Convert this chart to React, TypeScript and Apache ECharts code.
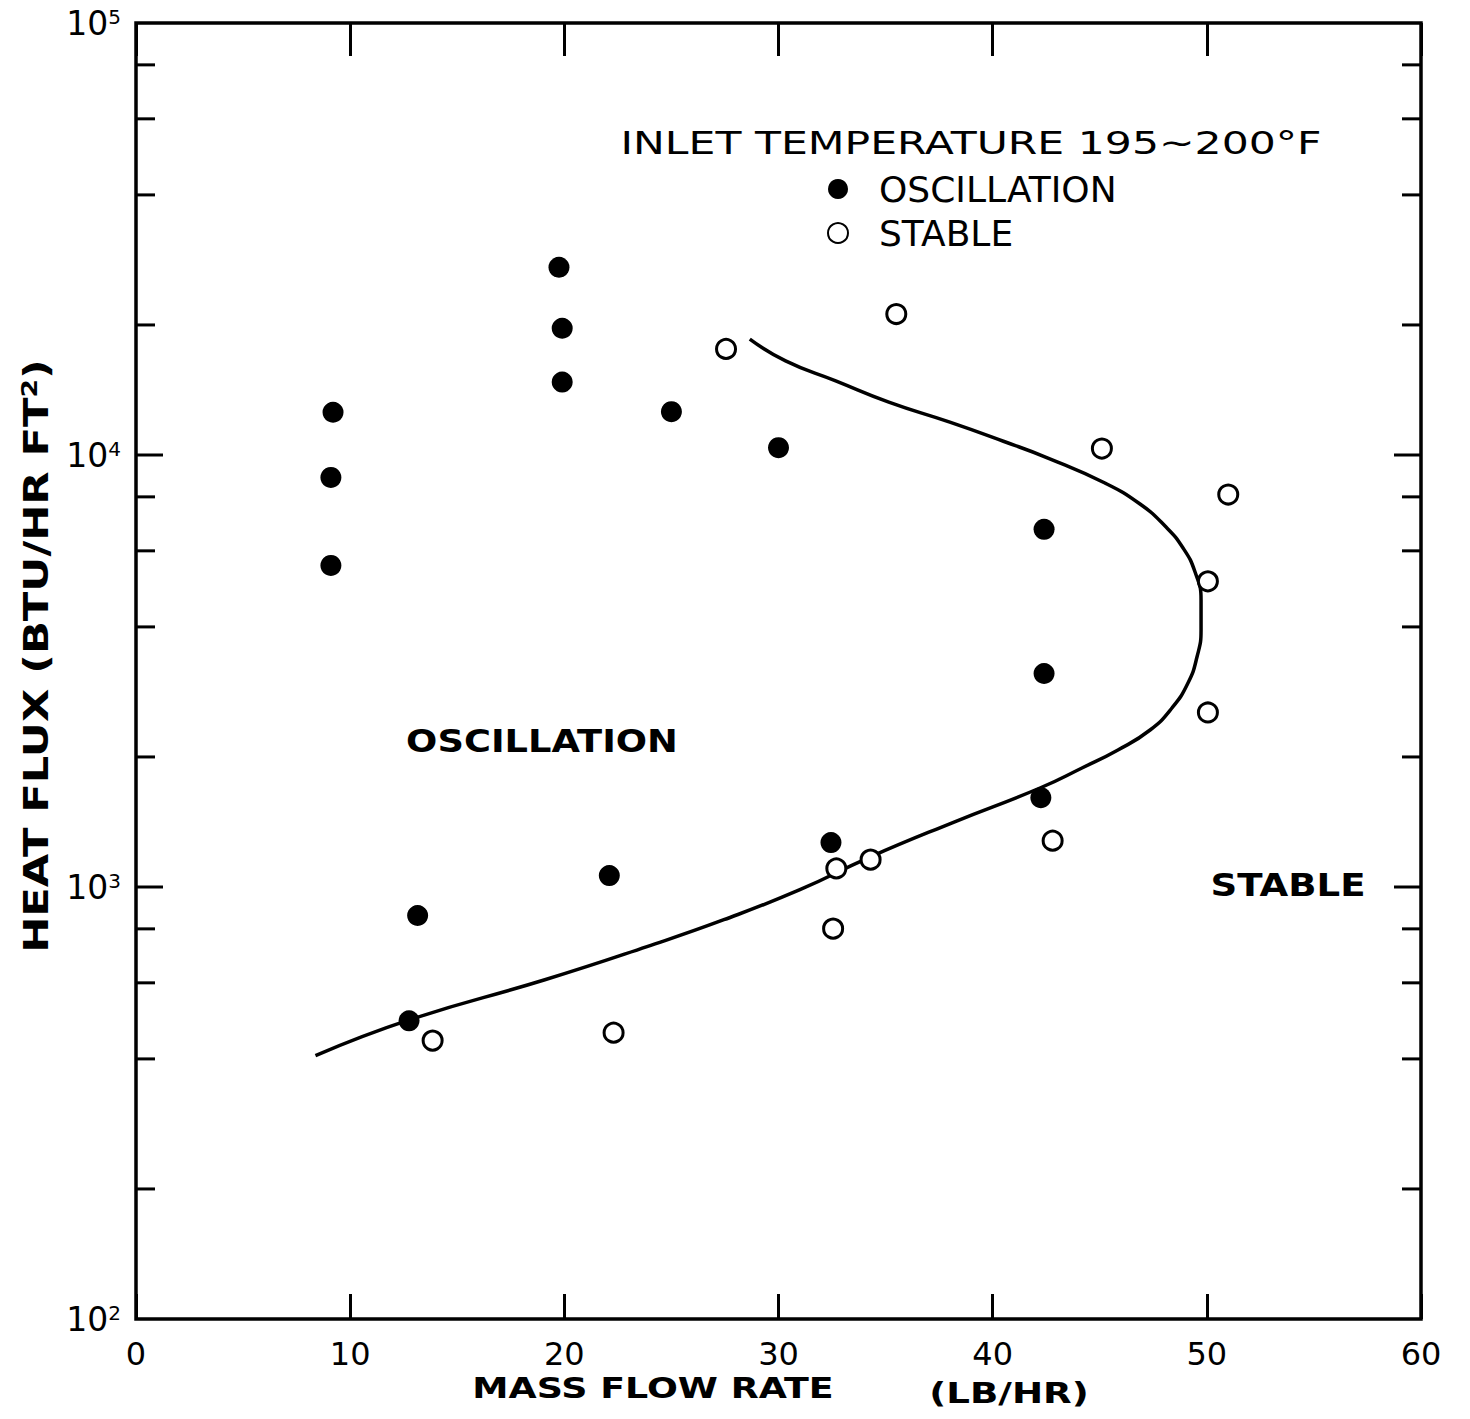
import React, { useEffect, useRef } from 'react';
import * as echarts from 'echarts';

// Mass flow rate (LB/HR) and heat flux (BTU/HR FT^2)
const oscillationX = [9.2, 9.1, 9.1, 19.75, 19.9, 19.9, 25.0, 30.0, 42.4, 42.4, 42.25, 32.45, 22.1, 13.15, 12.75];
const oscillationY = [12560, 8875, 5550, 27200, 19650, 14750, 12600, 10400, 6730, 3120, 1610, 1267, 1063, 859, 490];

const stableX = [35.5, 27.55, 45.1, 51.0, 50.05, 50.05, 42.8, 34.3, 32.7, 32.55, 22.3, 13.85];
const stableY = [21200, 17600, 10350, 8100, 5100, 2535, 1280, 1157, 1104, 801, 460, 441];

// Stability boundary curve, traced from lower-left around the nose to the top
const boundaryX = [8.38, 12.79, 19.09, 23.86, 27.45, 31.0, 34.22, 38.14, 42.21, 44.17, 45.85, 47.35, 48.37, 49.12, 49.54, 49.73, 49.73, 49.45, 48.89, 48.05, 46.88, 45.24, 42.58, 40.5, 38.0, 35.15, 32.67, 30.33, 28.66];
const boundaryY = [407, 493, 610, 728, 840, 986, 1170, 1410, 1695, 1886, 2076, 2309, 2596, 2966, 3407, 3935, 4617, 5359, 6092, 6848, 7700, 8613, 9841, 10760, 11910, 13250, 14840, 16510, 18540];

// Axis ranges and ticks
const xMin = 0;
const xMax = 60;
const xStep = 10;
const yMin = 100;
const yMax = 100000;
const yMinorTicks = [200, 400, 600, 800, 2000, 4000, 6000, 8000, 20000, 40000, 60000, 80000];
const yMajorTicks = [1000, 10000];

const FONT = 'DejaVu Sans';

const seriesOsc = oscillationX.map((x, i) => [x, oscillationY[i]]);
const seriesStable = stableX.map((x, i) => [x, stableY[i]]);
const seriesBoundary = boundaryX.map((x, i) => [x, boundaryY[i]]);
const yTickData = [
  ...yMinorTicks.map((v) => [xMin, v, 0]),
  ...yMajorTicks.map((v) => [xMin, v, 1]),
];

const tickLine = { color: '#000', width: 3 };

const option: any = {
  animation: false,
  backgroundColor: '#fff',
  textStyle: { fontFamily: FONT, color: '#000' },
  grid: {
    left: 136,
    top: 23,
    width: 1285,
    height: 1296,
    show: true,
    borderColor: '#000',
    borderWidth: 3.5,
    backgroundColor: 'transparent',
  },
  legend: {
    data: ['OSCILLATION', 'STABLE'],
    orient: 'vertical',
    left: 827,
    top: 169,
    padding: 0,
    itemWidth: 72,
    itemHeight: 20,
    itemGap: 4,
    selectedMode: false,
    textStyle: { fontSize: 36, fontFamily: FONT, color: '#000', lineHeight: 40 },
  },
  xAxis: [
    {
      type: 'value',
      min: xMin,
      max: xMax,
      interval: xStep,
      position: 'bottom',
      axisLine: { show: false },
      axisTick: { show: true, inside: true, length: 25, lineStyle: tickLine },
      axisLabel: { margin: 19, fontSize: 32, fontFamily: FONT, color: '#000' },
      splitLine: { show: false },
    },
    {
      type: 'value',
      min: xMin,
      max: xMax,
      interval: xStep,
      position: 'top',
      axisLine: { show: false },
      axisTick: { show: true, inside: true, length: 33, lineStyle: tickLine },
      axisLabel: { show: false },
      splitLine: { show: false },
    },
  ],
  yAxis: {
    type: 'log',
    logBase: 10,
    min: yMin,
    max: yMax,
    axisLine: { show: false },
    axisTick: { show: false },
    splitLine: { show: false },
    axisLabel: {
      margin: 15,
      fontSize: 33,
      fontFamily: FONT,
      color: '#000',
      showMinLabel: true,
      showMaxLabel: true,
      formatter: (v: number) => `{n|10}{s|${Math.round(Math.log10(v))}}`,
      rich: {
        n: { fontSize: 33, fontFamily: FONT, color: '#000' },
        s: { fontSize: 20, fontFamily: FONT, color: '#000', verticalAlign: 'top' },
      },
    },
  },
  series: [
    {
      type: 'custom',
      name: 'yticks',
      data: yTickData,
      encode: { x: 0, y: 1 },
      silent: true,
      z: 5,
      renderItem: (params: any, api: any) => {
        const v = api.value(1);
        const major = api.value(2) === 1;
        const len = major ? 27 : 19;
        const pL = api.coord([xMin, v]);
        const pR = api.coord([xMax, v]);
        const st = { stroke: '#000', lineWidth: 3 };
        return {
          type: 'group',
          children: [
            { type: 'line', shape: { x1: pL[0], y1: pL[1], x2: pL[0] + len, y2: pL[1] }, style: st },
            { type: 'line', shape: { x1: pR[0] - len, y1: pR[1], x2: pR[0], y2: pR[1] }, style: st },
          ],
        };
      },
    },
    {
      type: 'line',
      name: 'Boundary',
      data: seriesBoundary,
      smooth: 0.5,
      symbol: 'none',
      showSymbol: false,
      lineStyle: { color: '#000', width: 3.5 },
      z: 2,
    },
    {
      type: 'scatter',
      name: 'OSCILLATION',
      data: seriesOsc,
      symbol: 'circle',
      symbolSize: 21,
      itemStyle: { color: '#000', opacity: 1 },
      z: 3,
    },
    {
      type: 'scatter',
      name: 'STABLE',
      data: seriesStable,
      symbol: 'circle',
      symbolSize: 19,
      itemStyle: { color: '#fff', borderColor: '#000', borderWidth: 3, opacity: 1 },
      z: 4,
    },
  ],
  graphic: [
    {
      type: 'text',
      x: 971,
      y: 143,
      scaleX: 1.33,
      style: {
        text: 'INLET TEMPERATURE 195~200°F',
        fontSize: 32,
        fontFamily: FONT,
        fill: '#000',
        align: 'center',
        verticalAlign: 'middle',
      },
    },
    {
      type: 'text',
      x: 542,
      y: 741,
      scaleX: 1.15,
      style: {
        text: 'OSCILLATION',
        fontSize: 32,
        fontWeight: 'bold',
        fontFamily: FONT,
        fill: '#000',
        align: 'center',
        verticalAlign: 'middle',
      },
    },
    {
      type: 'text',
      x: 1288,
      y: 885,
      scaleX: 1.16,
      style: {
        text: 'STABLE',
        fontSize: 32,
        fontWeight: 'bold',
        fontFamily: FONT,
        fill: '#000',
        align: 'center',
        verticalAlign: 'middle',
      },
    },
    {
      type: 'text',
      x: 653,
      y: 1389,
      scaleX: 1.3,
      style: {
        text: 'MASS FLOW RATE',
        fontSize: 28,
        fontWeight: 'bold',
        fontFamily: FONT,
        fill: '#000',
        align: 'center',
        verticalAlign: 'middle',
      },
    },
    {
      type: 'text',
      x: 1009,
      y: 1393,
      scaleX: 1.33,
      style: {
        text: '(LB/HR)',
        fontSize: 28,
        fontWeight: 'bold',
        fontFamily: FONT,
        fill: '#000',
        align: 'center',
        verticalAlign: 'middle',
      },
    },
    {
      type: 'text',
      x: 36,
      y: 656,
      rotation: Math.PI / 2,
      scaleX: 1.27,
      style: {
        text: '{a|HEAT FLUX (BTU/HR FT}{s|2}{a|)}',
        fill: '#000',
        align: 'center',
        verticalAlign: 'middle',
        rich: {
          a: { fontSize: 34, fontWeight: 'bold', fontFamily: FONT, fill: '#000' },
          s: { fontSize: 21, fontWeight: 'bold', fontFamily: FONT, fill: '#000', verticalAlign: 'top' },
        },
      },
    },
  ],
};

export default function App() {
  const ref = useRef<HTMLDivElement>(null);
  useEffect(() => {
    if (!ref.current) return;
    const chart = echarts.init(ref.current, null, { renderer: 'svg' });
    chart.setOption(option);
    return () => chart.dispose();
  }, []);
  return (
    <div
      ref={ref}
      style={{ position: 'absolute', left: 0, top: 0, width: 1470, height: 1419, background: '#fff' }}
    />
  );
}
